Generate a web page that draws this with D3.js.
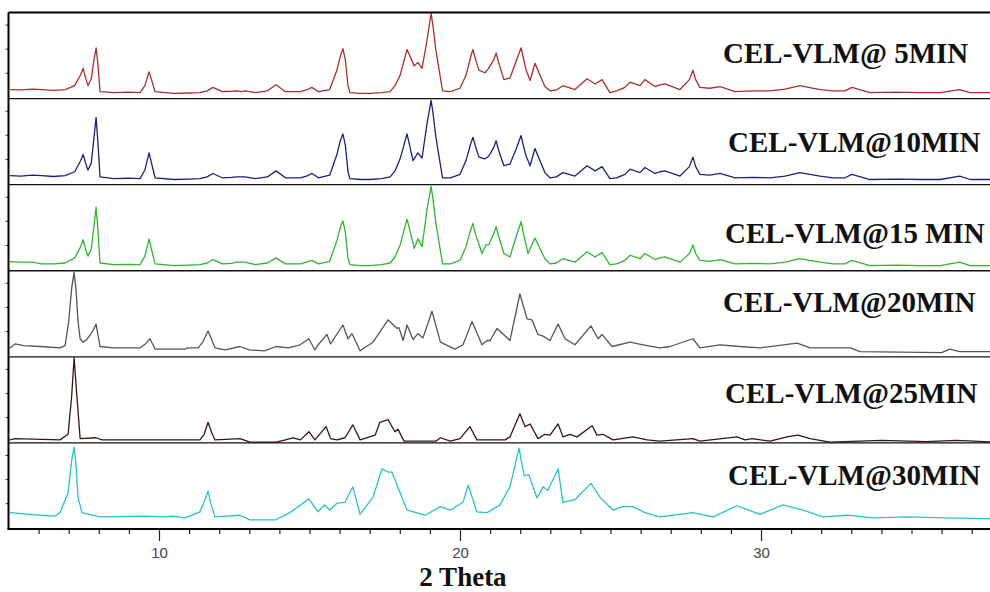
<!DOCTYPE html>
<html><head><meta charset="utf-8">
<script src="https://cdn.jsdelivr.net/npm/d3@7"></script>
<style>html,body{margin:0;padding:0;background:#fff}svg{display:block}</style>
</head><body>
<svg id="chart" width="990" height="592"></svg>
<script>
// ---------- data ----------
const sampleLabels = ["CEL-VLM@ 5MIN","CEL-VLM@10MIN","CEL-VLM@15 MIN","CEL-VLM@20MIN","CEL-VLM@25MIN","CEL-VLM@30MIN"];
const xMajorTicks = [10, 20, 30];
const xMinorTicks = [6,7,8,9,11,12,13,14,15,16,17,18,19,21,22,23,24,25,26,27,28,29,31,32,33,34,35,36,37];
const yTicks = [30, 58, 86];

// [2θ, relative intensity %]
const pattern5min = [[5.05,10.5],[5.4,10],[5.8,11],[6.1,10.5],[6.5,9.5],[6.88,10.5],[7.2,15],[7.4,28],[7.48,35],[7.56,24],[7.64,15],[7.75,23],[7.84,45],[7.91,59],[7.97,40],[8.04,8],[8.5,7],[9.0,7.5],[9.37,7],[9.53,15],[9.67,31],[9.75,22],[9.87,8],[10.5,6],[11.0,6.5],[11.36,7],[11.6,9],[11.79,13],[12.1,8],[12.4,8.5],[12.59,9],[12.75,8],[12.86,9],[13.2,7],[13.6,9],[13.89,16],[14.2,8],[14.69,8],[14.9,10],[15.08,13],[15.3,8],[15.67,10.5],[15.91,33],[16.03,50],[16.11,58],[16.19,45],[16.28,15],[16.34,7],[16.7,6],[17.0,6],[17.4,7],[17.68,8],[17.84,15],[18.01,27],[18.24,57],[18.48,38],[18.6,42],[18.74,35],[18.9,67],[19.04,99],[19.1,85],[19.2,56],[19.42,9],[19.68,8],[20.0,12],[20.2,27],[20.35,48],[20.43,57],[20.52,45],[20.63,33],[20.83,30],[20.95,35],[21.12,45],[21.2,53],[21.3,40],[21.46,22],[21.66,24],[21.85,42],[22.03,59],[22.1,48],[22.2,33],[22.33,21],[22.49,41],[22.82,14],[22.99,9],[23.2,10],[23.42,15],[23.82,10.5],[24.22,23],[24.49,17],[24.72,22],[24.98,7],[25.2,9],[25.48,13],[25.65,19],[25.98,15],[26.14,22],[26.48,14],[26.64,16],[26.81,17],[27.31,10.5],[27.62,22],[27.74,33],[27.83,22],[27.97,13],[28.3,12],[28.64,14],[29.14,8],[29.7,9],[30.3,9],[30.8,11],[31.29,15],[31.96,10.5],[32.4,9],[32.79,9],[33.02,13],[33.62,7],[34.5,7.5],[35.3,7],[35.95,7],[36.6,10.5],[36.95,7],[37.8,7]];

const pattern10min = [[5.05,10.5],[5.4,10],[5.8,11],[6.1,10.5],[6.5,9.5],[6.88,10.5],[7.2,15],[7.4,28],[7.48,35],[7.56,25],[7.64,17],[7.75,25],[7.84,55],[7.91,78],[7.97,50],[8.04,9],[8.5,7],[9.0,7.5],[9.37,7],[9.53,17],[9.67,37],[9.75,25],[9.87,8],[10.5,6],[11.0,6.5],[11.36,7],[11.6,9],[11.79,13],[12.1,8],[12.4,8.5],[12.59,9],[12.86,9],[13.2,7],[13.6,9],[13.89,16],[14.2,8],[14.69,8],[14.9,10],[15.08,13],[15.3,8],[15.67,11],[15.91,35],[16.03,52],[16.11,59],[16.19,46],[16.28,15],[16.34,7],[16.7,6],[17.0,6],[17.4,7],[17.68,9],[17.84,16],[18.01,30],[18.24,59],[18.44,28],[18.6,37],[18.74,31],[18.9,70],[19.04,98],[19.1,84],[19.2,55],[19.42,8],[19.68,8],[20.0,12],[20.2,28],[20.35,47],[20.43,55],[20.52,44],[20.63,32],[20.83,30],[20.95,33],[21.12,43],[21.2,51],[21.3,38],[21.46,22],[21.66,24],[21.85,40],[22.03,57],[22.1,46],[22.2,33],[22.33,22],[22.49,42],[22.82,14],[22.99,8],[23.2,9],[23.42,14],[23.82,10],[24.22,22],[24.49,16],[24.72,21],[24.98,7],[25.2,8],[25.48,12],[25.65,18],[25.98,14],[26.14,20],[26.48,13],[26.64,15],[26.81,16],[27.31,10],[27.62,21],[27.74,32],[27.83,21],[27.97,12],[28.3,11],[28.64,13],[29.14,8],[29.7,8.5],[30.3,8],[30.8,10],[31.29,14],[31.96,10],[32.4,8],[32.79,8],[33.02,12],[33.62,6],[34.5,6.5],[35.3,6],[35.95,6],[36.6,10],[36.95,6],[37.8,6]];

const pattern15min = [[5.05,10.5],[5.4,10],[5.8,10],[6.1,8],[6.5,8],[6.88,9],[7.2,15],[7.4,28],[7.48,36],[7.56,25],[7.64,17],[7.75,25],[7.84,52],[7.91,74],[7.97,48],[8.04,9],[8.5,7],[9.0,7.5],[9.37,7],[9.53,17],[9.67,37],[9.75,25],[9.87,8],[10.5,6],[11.0,6.5],[11.36,7],[11.6,9],[11.79,13],[12.1,8],[12.4,8.5],[12.59,10],[12.86,10],[13.2,7],[13.6,9],[13.89,15],[14.2,8],[14.69,8],[14.9,10],[15.08,12],[15.3,8],[15.67,11],[15.91,35],[16.03,51],[16.11,58],[16.19,45],[16.28,15],[16.34,7],[16.7,6],[17.0,6],[17.4,7],[17.68,9],[17.84,16],[18.01,30],[18.24,60],[18.48,26],[18.6,37],[18.74,28],[18.9,70],[19.04,98],[19.1,84],[19.2,55],[19.42,8],[19.68,8],[20.0,12],[20.2,28],[20.35,47],[20.43,55],[20.52,42],[20.73,20],[20.86,30],[20.95,30],[21.12,43],[21.2,51],[21.3,38],[21.46,20],[21.66,16],[21.85,38],[22.03,57],[22.1,45],[22.26,20],[22.49,38],[22.82,14],[22.99,8],[23.2,9],[23.42,14],[23.82,10],[24.22,22],[24.49,16],[24.72,21],[24.98,7],[25.2,8],[25.48,12],[25.65,18],[25.98,14],[26.14,20],[26.48,13],[26.64,15],[26.81,16],[27.31,10],[27.62,20],[27.74,30],[27.83,20],[27.97,12],[28.3,11],[28.64,13],[29.14,8],[29.7,8.5],[30.3,8],[30.8,10],[31.29,14],[31.96,10],[32.4,8],[32.79,8],[33.02,12],[33.62,6],[34.5,6.5],[35.3,6],[35.95,6],[36.6,10],[36.95,6],[37.8,6]];

const pattern20min = [[5.05,10.5],[5.22,15],[5.5,13],[6.05,12],[6.71,10.5],[6.88,13],[7.0,41],[7.1,80],[7.18,98],[7.25,75],[7.31,41],[7.38,21],[7.48,17],[7.6,20],[7.8,30],[7.91,38],[8.04,12],[8.5,10.5],[9.37,10.5],[9.55,15],[9.7,21],[9.87,9],[10.86,9],[10.95,10.5],[11.3,10.5],[11.45,17],[11.63,30],[11.86,10.5],[12.2,8],[12.69,12],[13.0,8],[13.5,7],[13.89,12],[14.3,10.5],[14.69,14],[14.98,21],[15.18,8],[15.29,14],[15.58,26],[15.7,15],[16.11,37],[16.28,21],[16.41,27],[16.68,7],[17.11,17],[17.61,43],[17.91,33],[17.97,34],[18.11,19],[18.24,37],[18.44,20],[18.6,27],[18.77,22],[19.07,53],[19.35,17],[19.83,9],[20.1,14],[20.4,41],[20.73,14],[20.9,19],[21.0,19],[21.23,33],[21.66,19],[21.99,73],[22.23,44],[22.39,43],[22.59,26],[22.76,24],[22.99,19],[23.26,38],[23.49,21],[23.82,14],[24.35,36],[24.59,21],[24.72,26],[25.05,12],[25.65,17],[26.08,14],[26.64,10.5],[26.98,12],[27.74,21],[27.97,10.5],[28.64,14],[29.3,12],[29.97,10.5],[31.2,16],[31.63,10.5],[32.96,10.5],[33.29,6],[36.0,5],[36.28,9],[36.6,6],[37.8,6]];

const pattern25min = [[5.05,3.5],[5.22,5],[6.71,3.5],[6.98,10],[7.1,55],[7.18,99],[7.26,60],[7.38,5],[7.91,6],[8.1,3.5],[11.36,3.5],[11.5,10],[11.63,24],[11.75,12],[11.86,3.5],[12.69,5],[13.02,1],[13.89,1],[14.2,3.5],[14.45,6],[14.7,3.5],[14.98,13],[15.18,3.5],[15.55,19],[15.7,5],[15.91,3.5],[16.18,6],[16.44,21],[16.68,3.5],[17.18,9],[17.34,24],[17.61,27],[17.84,13],[17.94,16],[18.14,2],[19.2,2],[19.35,6],[19.68,2],[20.0,5],[20.33,19],[20.56,3.5],[21.5,3.5],[21.66,7],[21.99,34],[22.16,19],[22.33,22],[22.59,5],[22.82,10],[22.99,9],[23.26,22],[23.42,7],[23.65,10],[23.89,7],[24.39,20],[24.55,9],[24.75,10],[25.08,3.5],[25.75,7],[26.21,3.5],[26.64,2],[27.74,5],[27.97,2],[29.2,7],[29.47,3.5],[29.7,5],[30.3,2],[30.87,7],[31.23,9],[31.63,5],[32.29,1],[34.0,3],[35.5,1.5],[36.5,3],[37.8,1]];

const pattern30min = [[5.05,19],[5.71,17],[6.05,16],[6.54,15],[6.71,19],[6.98,42],[7.1,80],[7.18,95],[7.24,75],[7.31,37],[7.44,19],[8.04,14],[9.5,15],[10.2,14],[10.43,15],[10.86,13],[11.36,20],[11.55,36],[11.63,44],[11.72,30],[11.86,14],[12.69,16],[13.02,10.5],[13.86,10.5],[14.35,19],[14.98,35],[15.28,20],[15.5,28],[15.67,22],[15.91,30],[16.18,31],[16.44,49],[16.68,17],[17.11,37],[17.41,70],[17.61,66],[17.74,66],[18.01,42],[18.24,22],[18.84,16],[19.35,26],[19.68,22],[20.1,31],[20.27,51],[20.56,20],[20.9,19],[21.33,28],[21.66,49],[21.96,94],[22.13,62],[22.29,63],[22.56,36],[22.76,49],[22.92,45],[23.26,70],[23.42,31],[23.82,34],[24.35,53],[24.65,37],[25.08,22],[25.41,26],[25.75,26],[26.14,19],[26.64,14],[27.74,19],[28.41,14],[29.2,27],[29.97,17],[30.73,28],[31.4,22],[32.06,14],[32.86,16],[33.72,13],[34.85,14],[36.05,13],[37.8,12]];

const patterns = [pattern5min, pattern10min, pattern15min, pattern20min, pattern25min, pattern30min];

// ---------- styles ----------
const lineColors = ["#a8302c", "#1d1f7c", "#2fb52f", "#555555", "#3a1414", "#27c3c6"];

// ---------- layout ----------
const svg = d3.select("#chart");
const plotLeft = 8.5, plotTop = 12.5, plotBottom = 529;
const pxPerDeg = 30.1;
const x = d3.scaleLinear().domain([5, 38]).range([plotLeft, plotLeft + 33 * pxPerDeg]);
const panelH = (plotBottom - plotTop) / patterns.length;
const labelBaselines = [63, 152, 243, 312, 403, 485];
const labelX = [723, 728, 725, 723, 725, 728];

patterns.forEach((data, i) => {
  const y = d3.scaleLinear().domain([0, 100])
    .range([plotTop + (i + 1) * panelH, plotTop + i * panelH]);
  const line = d3.line().x(d => x(d[0])).y(d => y(d[1]));
  svg.append("path").datum(data)
    .attr("d", line).attr("fill", "none")
    .attr("stroke", lineColors[i]).attr("stroke-width", 1.3)
    .attr("stroke-linejoin", "round");
  const ax = d3.axisLeft(y).tickValues(yTicks).tickSize(3).tickFormat("");
  const g = svg.append("g").attr("transform", `translate(${plotLeft},0)`).call(ax);
  g.select(".domain").remove();
  g.selectAll("line").attr("stroke", "#333").attr("stroke-width", 1);
  if (i > 0) {
    svg.append("line").attr("x1", plotLeft).attr("x2", 990)
      .attr("y1", y.range()[1]).attr("y2", y.range()[1])
      .attr("stroke", "#111").attr("stroke-width", 1.3);
  }
  svg.append("text").attr("x", labelX[i]).attr("y", labelBaselines[i])
    .attr("font-family", "'Liberation Serif','Times New Roman',serif")
    .attr("font-weight", "bold").attr("font-size", 29).attr("fill", "#111")
    .text(sampleLabels[i]);
});

svg.append("line").attr("x1", plotLeft).attr("x2", 990)
  .attr("y1", plotTop).attr("y2", plotTop).attr("stroke", "#000").attr("stroke-width", 2.2);
svg.append("line").attr("x1", plotLeft).attr("x2", plotLeft)
  .attr("y1", plotTop).attr("y2", plotBottom).attr("stroke", "#000").attr("stroke-width", 2);

const minor = svg.append("g").attr("transform", `translate(0,${plotBottom})`)
  .call(d3.axisBottom(x).tickValues(xMinorTicks).tickSize(5).tickFormat(""));
minor.select(".domain").remove();
minor.selectAll("line").attr("stroke", "#222").attr("stroke-width", 1.2);
const major = svg.append("g").attr("transform", `translate(0,${plotBottom})`)
  .call(d3.axisBottom(x).tickValues(xMajorTicks).tickSize(12).tickPadding(6).tickFormat(d3.format("d")));
major.select(".domain").remove();
major.selectAll("line").attr("stroke", "#222").attr("stroke-width", 1.2);
major.selectAll("text").attr("font-family", "'Liberation Sans',Arial,sans-serif")
  .attr("font-size", 15).attr("fill", "#444");
svg.append("line").attr("x1", plotLeft - 1).attr("x2", 990)
  .attr("y1", plotBottom).attr("y2", plotBottom).attr("stroke", "#000").attr("stroke-width", 2.2);

svg.append("text").attr("x", 463).attr("y", 586).attr("text-anchor", "middle")
  .attr("font-family", "'Liberation Serif','Times New Roman',serif")
  .attr("font-weight", "bold").attr("font-size", 27).attr("fill", "#111")
  .text("2 Theta");
</script>
</body></html>
